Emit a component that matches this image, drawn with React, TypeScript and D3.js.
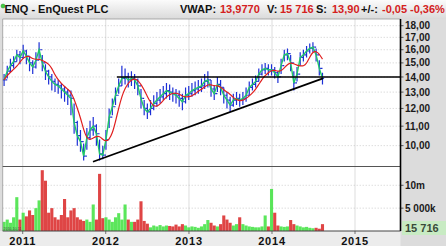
import React from 'react';
import * as d3 from 'd3';

const W = 446;
const H = 246;
const FONT = '"Liberation Sans", Arial, sans-serif';

const startDate = '2010-10-11';
const stepDays = 14;

const closes = [
  13.8, 14.4, 14.8, 15.1, 15.6, 15.4, 15.9, 15.5, 15.0, 14.7,
  15.2, 16.0, 15.0, 14.4, 14.0, 13.7, 13.5, 13.4, 13.2, 13.0,
  12.8, 12.6, 11.2, 10.5, 10.2, 9.5, 10.4, 10.8, 11.0, 10.6,
  9.6, 9.55, 10.3, 11.5, 12.1, 12.8, 13.4, 13.9, 14.0, 13.8,
  13.9, 13.8, 13.4, 12.6, 12.0, 11.8, 12.0, 12.3, 12.5, 12.7,
  12.9, 13.1, 13.0, 12.9, 12.8, 12.6, 12.4, 12.8, 12.9, 13.1,
  13.2, 13.3, 13.4, 13.7, 13.8, 13.2, 12.9, 13.5, 13.3, 12.8,
  12.5, 12.2, 12.5, 12.6, 12.5, 12.6, 12.8, 13.3, 13.5, 13.7,
  14.2, 14.5, 14.6, 14.5, 14.5, 14.3, 14.0, 14.8, 15.6, 15.7,
  15.0, 13.6, 14.2, 15.4, 15.6, 15.9, 16.1, 16.2, 15.6, 14.6,
  13.9,
];

const highs = [
  14.2, 14.8, 15.3, 15.5, 16.0, 15.9, 16.4, 16.0, 15.5, 15.2,
  15.8, 16.6, 15.6, 14.9, 14.5, 14.2, 13.9, 13.8, 13.6, 13.4,
  13.2, 13.1, 12.3, 11.3, 10.8, 10.1, 10.9, 11.3, 11.5, 11.1,
  10.3, 10.0, 10.8, 12.0, 12.6, 13.3, 13.9, 14.8, 14.6, 14.3,
  14.4, 14.2, 13.9, 13.2, 12.5, 12.3, 12.5, 12.8, 13.0, 13.2,
  13.4, 13.6, 13.5, 13.3, 13.2, 13.1, 12.9, 13.3, 13.4, 13.6,
  13.7, 13.8, 13.9, 14.2, 14.4, 13.8, 13.4, 14.0, 13.8, 13.3,
  13.0, 12.7, 12.9, 13.0, 12.9, 13.0, 13.3, 13.7, 13.9, 14.1,
  14.6, 14.9, 15.0, 14.9, 14.9, 14.7, 14.4, 15.3, 16.0, 16.1,
  15.6, 14.4, 14.7, 15.8, 16.0, 16.3, 16.5, 16.6, 16.1, 15.2,
  14.3,
];

const lows = [
  13.4, 13.9, 14.3, 14.6, 15.1, 14.9, 15.3, 14.9, 14.4, 14.2,
  14.6, 15.3, 14.4, 13.8, 13.5, 13.1, 13.0, 12.9, 12.6, 12.4,
  12.2, 11.6, 10.6, 10.0, 9.7, 9.3, 9.8, 10.3, 10.5, 10.0,
  9.3, 9.35, 9.8, 10.9, 11.6, 12.2, 12.9, 13.4, 13.5, 13.3,
  13.4, 13.2, 12.8, 12.0, 11.6, 11.4, 11.6, 11.9, 12.1, 12.3,
  12.5, 12.6, 12.5, 12.4, 12.3, 12.1, 11.9, 12.3, 12.5, 12.7,
  12.8, 12.9, 13.0, 13.2, 13.3, 12.7, 12.5, 13.0, 12.8, 12.3,
  12.0, 11.8, 12.1, 12.2, 12.1, 12.2, 12.4, 12.8, 13.1, 13.3,
  13.7, 14.1, 14.2, 14.1, 14.1, 13.9, 13.6, 14.2, 15.1, 15.2,
  14.4, 13.1, 13.7, 14.8, 15.1, 15.4, 15.7, 15.8, 15.1, 14.1,
  13.5,
];

// volume, millions of shares
const volumes = [
  2.0, 2.5, 1.8, 3.0, 7.4, 2.5, 4.0, 3.2, 4.5, 3.5,
  5.0, 6.7, 13.3, 11.0, 4.0, 5.0, 3.0, 2.5, 3.5, 7.0,
  3.0, 4.5, 5.0, 3.0, 2.5, 2.2, 2.5, 2.0, 5.8, 2.5,
  12.5, 2.8, 3.0, 2.5, 2.0, 3.0, 3.9, 2.5, 5.8, 2.5,
  2.0, 2.0, 2.5, 6.5, 2.2, 1.6, 0.8, 1.2, 1.0, 1.3,
  1.0, 1.2, 1.1, 1.0, 1.4, 1.0, 1.5, 1.2, 0.8, 1.0,
  0.9, 0.7, 1.0, 1.5, 2.4, 1.8, 1.2, 1.0, 1.5, 3.4,
  2.5, 1.8, 1.2, 1.5, 3.0, 1.5, 1.2, 1.0, 0.9, 0.8,
  0.8, 1.0, 3.4, 1.0, 9.2, 4.0, 1.2, 1.0, 0.9, 1.0,
  2.4, 1.5, 1.2, 1.0, 0.8, 0.9, 0.7, 0.6, 0.7, 0.5,
  1.5,
];

const priceTicks = [10, 11, 12, 13, 14, 15, 16, 17, 18];
const volTicks = [5, 10];
const volTickLabels = ['5 000k', '10m'];
const yearTicks = [2011, 2012, 2013, 2014, 2015];

const diagTrend = [
  { date: '2011-11-06', price: 9.24 },
  { date: '2014-08-13', price: 13.9 },
];
const horizTrend = { from: '2012-02-19', price: 14.0 };

const maWindow = 5;

const header = [
  { t: 'VWAP:', x: 180, c: '#111' },
  { t: '13,9770', x: 220, c: '#d42020' },
  { t: 'V:', x: 267, c: '#111' },
  { t: '15 716', x: 280, c: '#d42020' },
  { t: 'S:', x: 316, c: '#111' },
  { t: '13,90', x: 332, c: '#d42020' },
  { t: '+/-:', x: 361, c: '#111' },
  { t: '-0,05', x: 382, c: '#d42020' },
  { t: '-0,36%', x: 410, c: '#d42020' },
];

export default function App() {
  const parse = d3.timeParse('%Y-%m-%d');
  const d0 = parse(startDate) as Date;
  const dates = closes.map((_, i) => d3.timeDay.offset(d0, i * stepDays));

  const plotL = 2.7;
  const plotR = 400.5;
  const priceTop = 19;
  const priceBot = 166;
  const volTop = 167;
  const volBot = 231;

  const x = d3
    .scaleTime()
    .domain([new Date(2010, 9, 5), new Date(2015, 6, 20)])
    .range([plotL, plotR]);
  const y = d3.scaleLog().domain([9.05, 18.6]).range([priceBot, priceTop]);
  const yv = d3.scaleLinear().domain([0, 14]).range([volBot, volTop]);

  const ma = closes.map((_, i) => {
    const s = closes.slice(Math.max(0, i - maWindow + 1), i + 1);
    return d3.mean(s) as number;
  });

  const lineClose = d3
    .line<number>()
    .x((_, i) => x(dates[i]))
    .y((d) => y(d))
    .curve(d3.curveLinear);
  const lineMA = d3
    .line<number>()
    .x((_, i) => x(dates[i]))
    .y((d) => y(d))
    .curve(d3.curveBasis);

  const barW = 3.1;

  return (
    <svg
      width={W}
      height={H}
      style={{ position: 'absolute', left: 0, top: 0, fontFamily: FONT }}
    >
      <defs>
        <linearGradient id="hdr" x1="0" y1="0" x2="0" y2="1">
          <stop offset="0" stopColor="#fbfbfb" />
          <stop offset="1" stopColor="#dadada" />
        </linearGradient>
        <clipPath id="pclip">
          <rect x={plotL} y={priceTop} width={plotR - plotL} height={priceBot - priceTop} />
        </clipPath>
      </defs>
      <rect x={0} y={0} width={W} height={H} fill="#dcdcdc" />
      <rect x={0} y={0} width={W} height={19} fill="url(#hdr)" />
      <rect x={0} y={volBot} width={plotR} height={H - volBot} fill="#ececec" />

      {/* header */}
      <circle cx={3} cy={6} r={2} fill="#3fcf3f" stroke="#2a8a2a" strokeWidth={0.5} />
      <text x={4.5} y={12.5} fontSize={11} fontWeight="bold" fill="#111">
        ENQ - EnQuest PLC
      </text>
      <text y={12.5} fontSize={11} fontWeight="bold">
        {header.map((h) => (
          <tspan key={h.t} x={h.x} fill={h.c}>
            {h.t}
          </tspan>
        ))}
      </text>

      {/* panels */}
      <rect x={plotL} y={priceTop} width={plotR - plotL} height={priceBot - priceTop} fill="#fff" />
      <rect x={plotL} y={volTop} width={plotR - plotL} height={volBot - volTop} fill="#fff" />

      {/* vertical grid */}
      {yearTicks.map((yr) => {
        const xx = x(new Date(yr, 0, 1));
        return (
          <g key={yr}>
            <line x1={xx} x2={xx} y1={priceTop} y2={priceBot} stroke="#d4d4d4" strokeWidth={0.8} />
            <line x1={xx} x2={xx} y1={volTop} y2={volBot} stroke="#d4d4d4" strokeWidth={0.8} />
            <line x1={xx} x2={xx} y1={volBot} y2={volBot + 3} stroke="#555" strokeWidth={0.8} />
            <text
              x={xx}
              y={245}
              textAnchor="middle"
              fontSize={11}
              fontWeight="bold"
              letterSpacing={0.8}
              fill="#111"
            >
              {yr}
            </text>
          </g>
        );
      })}

      {/* horizontal price grid + labels */}
      {priceTicks.map((p) => (
        <g key={p}>
          <line
            x1={plotL}
            x2={plotR}
            y1={y(p)}
            y2={y(p)}
            stroke="#b8b8b8"
            strokeWidth={0.7}
            strokeDasharray="1,2"
          />
          <line x1={plotR} x2={plotR + 3} y1={y(p)} y2={y(p)} stroke="#333" strokeWidth={0.8} />
          <text x={405} y={y(p) + 3.6} fontSize={10} fontWeight="bold" fill="#1a1a1a">
            {p.toFixed(2).replace('.', ',')}
          </text>
        </g>
      ))}

      {/* volume grid + labels */}
      {volTicks.map((v, i) => (
        <g key={v}>
          <line
            x1={plotL}
            x2={plotR}
            y1={yv(v)}
            y2={yv(v)}
            stroke="#b8b8b8"
            strokeWidth={0.7}
            strokeDasharray="1,2"
          />
          <line x1={plotR} x2={plotR + 3} y1={yv(v)} y2={yv(v)} stroke="#333" strokeWidth={0.8} />
          <text x={405} y={yv(v) + 3.6} fontSize={10} fontWeight="bold" fill="#1a1a1a">
            {volTickLabels[i]}
          </text>
        </g>
      ))}
      <rect x={402} y={221} width={44} height={14} fill="#c8ebc3" />
      <text x={405} y={232} fontSize={11} fontWeight="bold" fill="#3a4a3a">
        15 716
      </text>

      {/* price series */}
      <g clipPath="url(#pclip)">
        {closes.map((c, i) => {
          const xx = x(dates[i]);
          const o = i > 0 ? closes[i - 1] : c;
          return (
            <g key={i} stroke="#1c2fd6" strokeWidth={1.2}>
              <line x1={xx} x2={xx} y1={y(highs[i])} y2={y(lows[i])} />
              <line x1={xx - 1.6} x2={xx} y1={y(o)} y2={y(o)} />
              <line x1={xx} x2={xx + 1.6} y1={y(c)} y2={y(c)} />
            </g>
          );
        })}
        <path d={lineClose(closes) || ''} fill="none" stroke="#1fc868" strokeWidth={1.4} />
        <path d={lineMA(ma) || ''} fill="none" stroke="#e01e1e" strokeWidth={1.2} />
        <line
          x1={x(parse(horizTrend.from) as Date)}
          x2={plotR}
          y1={y(horizTrend.price)}
          y2={y(horizTrend.price)}
          stroke="#000"
          strokeWidth={1.4}
        />
        <line
          x1={x(parse(diagTrend[0].date) as Date)}
          x2={x(parse(diagTrend[1].date) as Date)}
          y1={y(diagTrend[0].price)}
          y2={y(diagTrend[1].price)}
          stroke="#000"
          strokeWidth={1.8}
        />
      </g>

      {/* volume bars */}
      {volumes.map((v, i) => {
        const up = i === 0 ? true : closes[i] >= closes[i - 1];
        return (
          <rect
            key={i}
            x={x(dates[i]) - barW / 2}
            y={yv(v)}
            width={barW}
            height={volBot - yv(v)}
            fill={up ? '#3ee23e' : '#d92424'}
            opacity={0.85}
          />
        );
      })}
      <text x={3.5} y={230} fontSize={3.5} fill="#444">
        2010-10-11
      </text>

      {/* frames */}
      <line x1={plotL} x2={plotR} y1={priceTop} y2={priceTop} stroke="#9a9a9a" strokeWidth={0.8} />
      <line x1={plotL} x2={plotL} y1={priceTop} y2={volBot} stroke="#9a9a9a" strokeWidth={0.8} />
      <line x1={plotL} x2={plotR} y1={priceBot + 0.5} y2={priceBot + 0.5} stroke="#555" strokeWidth={1} />
      <line x1={plotL} x2={plotR} y1={volBot} y2={volBot} stroke="#444" strokeWidth={1} />
      <line x1={plotR} x2={plotR} y1={priceTop} y2={volBot} stroke="#000" strokeWidth={1.6} />
    </svg>
  );
}
